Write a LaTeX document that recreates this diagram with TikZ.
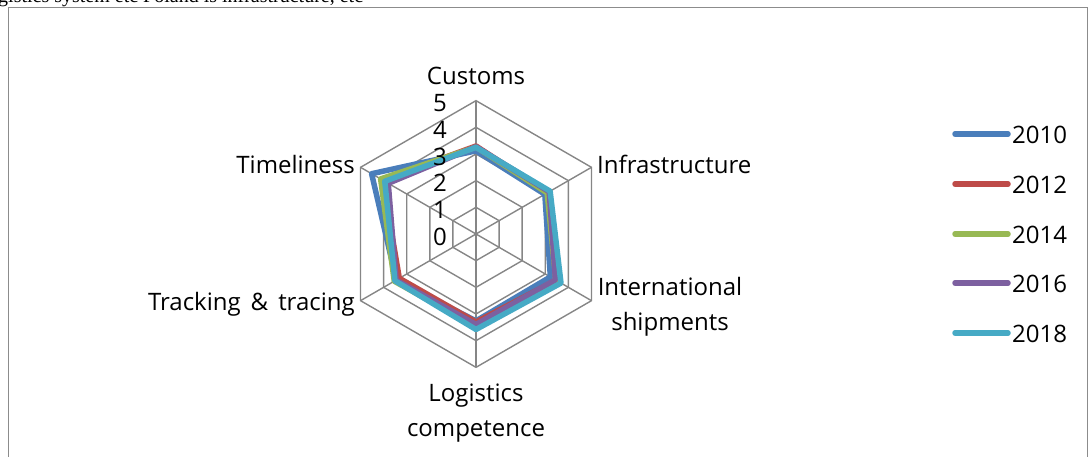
\documentclass[tikz,border=0pt]{standalone}
\usepackage{fontspec}
\setmainfont{Open Sans}
\newfontfamily\cutserif{Liberation Serif}
\definecolor{gridgray}{HTML}{868686}
\definecolor{frameg}{HTML}{8C8C8C}
\definecolor{sBlue}{HTML}{4A7EBB}
\definecolor{sRed}{HTML}{BE4B48}
\definecolor{sGreen}{HTML}{98B954}
\definecolor{sPurple}{HTML}{7D60A0}
\definecolor{sCyan}{HTML}{46AAC5}
\pgfmathsetmacro\ru{26.667}
\newcommand\radarline[7]{%
  \draw[series,#1] (90:#2*\ru) -- (30:#3*\ru) -- (-30:#4*\ru) -- (-90:#5*\ru) -- (-150:#6*\ru) -- (150:#7*\ru) -- cycle;}
\begin{document}
\begin{tikzpicture}[x=1pt,y=1pt,
  gridline/.style={draw=gridgray,line width=1.4pt},
  series/.style={line width=5.5pt,line join=round},
  lab/.style={font=\fontsize{24}{35}\selectfont,inner sep=0pt,text=black},
  axnum/.style={font=\fontsize{24}{28}\selectfont,inner sep=0pt,anchor=east},
  legline/.style={line width=5.5pt,line cap=round}]
\useasboundingbox (0,0) rectangle (1089,457);
\clip (0,0) rectangle (1089,457);
% clipped caption text at the very top
\node[anchor=base west,inner sep=0pt,font=\cutserif\fontsize{20}{22}\selectfont] (cut) at (-2,454) {gistics system etc Poland is infrastructure, etc};
% frame
\draw[frameg,line width=1pt] (8,-5) -- (8,449.5) -- (1087.5,449.5) -- (1087.5,-5);
\begin{scope}[shift={(476,223)}]
  \coordinate (c) at (0,0);
  % grid hexagons
  \foreach \k in {1,...,5}{
    \draw[gridline] (90:\k*\ru) -- (30:\k*\ru) -- (-30:\k*\ru) -- (-90:\k*\ru) -- (-150:\k*\ru) -- (150:\k*\ru) -- cycle;
  }
  \foreach \a/\n in {90/vc,30/vi,-30/vs,-90/vl,-150/vt,150/vm}{
    \coordinate (\n) at (\a:5*\ru);
    \draw[gridline] (c) -- (\n);
  }
  % series
  \radarline{sBlue}{3.12}{2.98}{3.22}{3.26}{3.45}{4.52}
  \radarline{sRed}{3.30}{3.10}{3.47}{3.30}{3.32}{4.04}
  \radarline{sGreen}{3.26}{3.08}{3.46}{3.47}{3.54}{4.13}
  \radarline{sPurple}{3.27}{3.17}{3.44}{3.39}{3.46}{3.80}
  \radarline{sCyan}{3.25}{3.21}{3.68}{3.58}{3.51}{3.95}
  % axis numbers
  \foreach \v in {0,...,5}{
    \node[axnum] (n\v) at (-29,\v*\ru-2.5) {\v};
  }
\end{scope}
% category labels
\node[lab,anchor=base] (customs) at (476,372) {Customs};
\node[lab,anchor=base west] (infra) at (597,283) {Infrastructure};
\node[lab,align=center] (intl) at (670,150) {International\\shipments};
\node[lab,anchor=base east] (track) at (355,146) {Tracking\hspace{10pt}\&\hspace{10pt}tracing};
\node[lab,align=center] (logi) at (476,44) {Logistics\\competence};
\node[lab,anchor=base east] (time) at (355,283) {Timeliness};
% legend
\foreach \c/\yr/\yy in {sBlue/2010/323,sRed/2012/273,sGreen/2014/223,sPurple/2016/174,sCyan/2018/124}{
  \coordinate (l\yr a) at (955,\yy);
  \coordinate (l\yr b) at (1008,\yy);
  \draw[legline,\c] (l\yr a) -- (l\yr b);
  \node[lab,anchor=west] (t\yr) at (1012,\yy-0.5) {\yr};
}
\end{tikzpicture}
\end{document}
